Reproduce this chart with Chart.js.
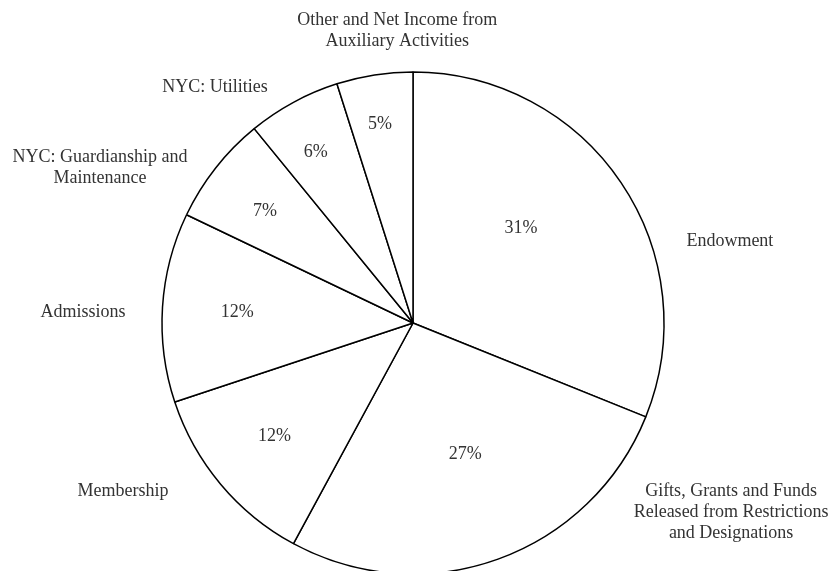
<!DOCTYPE html>
<html>
<head>
<meta charset="utf-8">
<script src="https://cdn.jsdelivr.net/npm/chart.js@4"></script>
<style>
  html, body { margin: 0; padding: 0; background: #fff; overflow: hidden; }
  #wrap { width: 833px; height: 571px; position: relative; }
</style>
</head>
<body>
<div id="wrap"><canvas id="revenuePie"></canvas></div>
<script>
// Revenue sources (share of total, %)
const categories = [
    "Endowment",
    ["Gifts, Grants and Funds", "Released from Restrictions", "and Designations"],
    "Membership",
    "Admissions",
    ["NYC: Guardianship and", "Maintenance"],
    "NYC: Utilities",
    ["Other and Net Income from", "Auxiliary Activities"]
];
const shares = [31.1, 26.8, 12.0, 12.2, 7.0, 6.0, 4.9];

// label layout: outside labels as [angle from top (deg), distance / radius]
const outerPos = [[75.5, 1.304], [120.7, 1.474], [239.9, 1.335], [271.9, 1.315], [296.4, 1.392], [320.0, 1.227], [356.9, 1.165]];
// percent labels: [angle offset from slice middle (deg), distance / radius]
const innerPos = [[-7.3, 0.573], [-1.9, 0.562], [0.7, 0.713], [0, 0.702], [-1.1, 0.739], [-1.2, 0.783], [-0.6, 0.804]];

const FONT = '18px "Liberation Serif", "Times New Roman", serif';
const TEXT_COLOR = "#333";
const LINE_H = 21;

function polar(cx, cy, deg, r) {
    const t = deg * Math.PI / 180 - Math.PI / 2;
    return [cx + r * Math.cos(t), cy + r * Math.sin(t)];
}

const pieLabels = {
    id: "pieLabels",
    afterDatasetsDraw(chart) {
        const ctx = chart.ctx;
        const meta = chart.getDatasetMeta(0);
        const total = shares.reduce((a, b) => a + b, 0);
        ctx.save();
        ctx.font = FONT;
        ctx.fillStyle = TEXT_COLOR;
        ctx.textAlign = "center";
        ctx.textBaseline = "middle";
        meta.data.forEach((arc, i) => {
            const p = arc.getProps(["x", "y", "startAngle", "endAngle", "outerRadius"], true);
            // percent inside the slice
            const midDeg = ((p.startAngle + p.endAngle) / 2 + Math.PI / 2) * 180 / Math.PI;
            const [ix, iy] = polar(p.x, p.y, midDeg + innerPos[i][0], p.outerRadius * innerPos[i][1]);
            ctx.fillText(Math.round(shares[i] / total * 100) + "%", ix, iy);
            // category name outside
            const lines = [].concat(categories[i]);
            const [ox, oy] = polar(p.x, p.y, outerPos[i][0], p.outerRadius * outerPos[i][1]);
            const top = oy - (lines.length - 1) * LINE_H / 2;
            lines.forEach((ln, k) => ctx.fillText(ln, ox, top + k * LINE_H));
        });
        ctx.restore();
    }
};

const ctx = document.getElementById("revenuePie").getContext("2d");
new Chart(ctx, {
    type: "pie",
    data: {
        labels: categories,
        datasets: [{
            data: shares,
            backgroundColor: "#fff",
            borderColor: "#000",
            borderWidth: 1.5,
        }]
    },
    options: {
        responsive: true,
        maintainAspectRatio: false,
        animation: false,
        events: [],
        radius: 251,
        layout: { padding: { top: 75, bottom: 0, left: 0, right: 7 } },
        plugins: {
            legend: { display: false },
            tooltip: { enabled: false },
        },
    },
    plugins: [pieLabels]
});
</script>
</body>
</html>
